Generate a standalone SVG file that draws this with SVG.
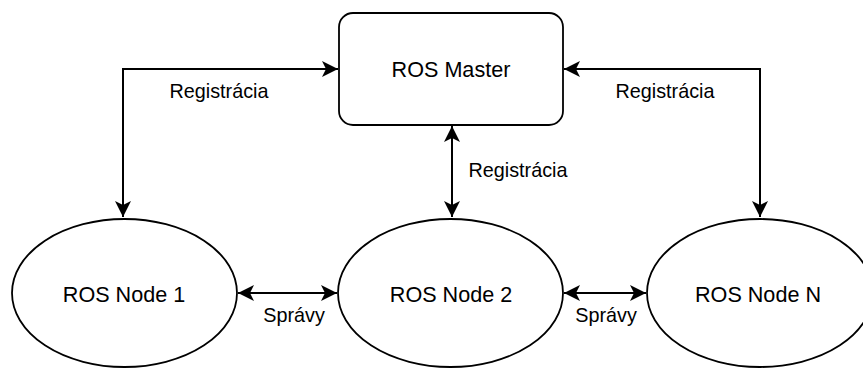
<svg xmlns="http://www.w3.org/2000/svg" width="863" height="369" viewBox="0 0 863 369">
  <style>
    .shape { fill: #ffffff; stroke: #000000; stroke-width: 1.8; }
    .edge { fill: none; stroke: #000000; stroke-width: 2; marker-start: url(#arrow); marker-end: url(#arrow); }
    .label { font-family: "Liberation Sans", Arial, Helvetica, sans-serif; fill: #000000; text-anchor: middle; dominant-baseline: central; }
    .node-label { font-size: 21.6px; }
    .edge-label { font-size: 19.8px; }
  </style>
  <defs>
    <!-- classic arrowhead with notch, sized in user units -->
    <marker id="arrow" markerUnits="userSpaceOnUse" markerWidth="18" markerHeight="18" viewBox="-17 -9 18 18" refX="0" refY="0" orient="auto-start-reverse">
      <path d="M -16,-8 L 0,0 L -16,8 L -12,0 Z" fill="#000000" stroke="none"/>
    </marker>
  </defs>
  <rect width="863" height="369" fill="#ffffff"/>

  <g id="connectors">
    <path class="edge" d="M 123,217 L 123,69 L 338,69"/>
    <path class="edge" d="M 760,217 L 760,69 L 564,69"/>
    <path class="edge" d="M 452,126 L 452,217"/>
    <path class="edge" d="M 238,293 L 337,293"/>
    <path class="edge" d="M 564,293 L 646,293"/>
    <text class="label edge-label" x="219" y="91">Registrácia</text>
    <text class="label edge-label" x="665" y="91">Registrácia</text>
    <text class="label edge-label" x="518" y="170">Registrácia</text>
    <text class="label edge-label" x="294" y="315">Správy</text>
    <text class="label edge-label" x="606" y="315">Správy</text>
  </g>

  <g id="ros-master">
    <rect class="shape" x="339" y="13" width="224" height="112" rx="14" ry="14"/>
    <text class="label node-label" x="451" y="69">ROS Master</text>
  </g>

  <g id="ros-node-1">
    <ellipse class="shape" cx="124.5" cy="293" rx="112.5" ry="74"/>
    <text class="label node-label" x="124" y="294">ROS Node 1</text>
  </g>

  <g id="ros-node-2">
    <ellipse class="shape" cx="450.5" cy="293" rx="112.5" ry="74"/>
    <text class="label node-label" x="451" y="294">ROS Node 2</text>
  </g>

  <g id="ros-node-n">
    <ellipse class="shape" cx="760" cy="293" rx="113" ry="74"/>
    <text class="label node-label" x="758" y="294">ROS Node N</text>
  </g>
</svg>
